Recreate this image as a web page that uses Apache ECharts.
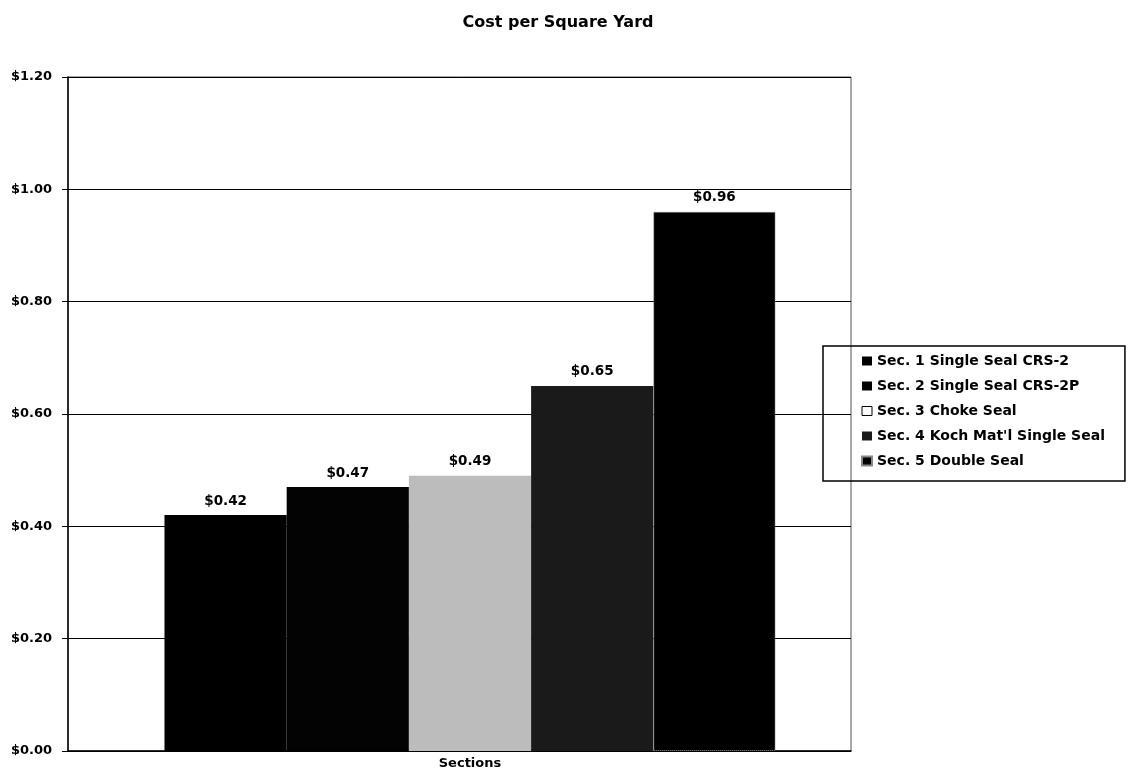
<!DOCTYPE html>
<html>
<head>
<meta charset="utf-8">
<script src="https://cdn.jsdelivr.net/npm/echarts@6/dist/echarts.min.js"></script>
<style>html,body{margin:0;padding:0;background:#fff}#c{width:1129px;height:776px}</style>
</head>
<body>
<div id="c"></div>
<script>
const categories = ['Sections'];
const seriesNames = ['Sec. 1 Single Seal CRS-2', 'Sec. 2 Single Seal CRS-2P', 'Sec. 3 Choke Seal', "Sec. 4 Koch Mat'l Single Seal", 'Sec. 5 Double Seal'];
const values = [0.42, 0.47, 0.49, 0.65, 0.96];
const colors = ['#000000', '#030303', '#bcbcbc', '#1a1a1a', '#000000'];

const font = '"DejaVu Sans", sans-serif';
const chart = echarts.init(document.getElementById('c'));
const series = seriesNames.map((n, i) => ({
  name: n,
  type: 'bar',
  xAxisIndex: 1,
  yAxisIndex: 1,
  data: [values[i]],
  barGap: '0%',
  barCategoryGap: '19.6%',
  itemStyle: Object.assign({ color: colors[i] }, i === 4 ? { borderColor: '#888', borderWidth: 1, borderType: 'dotted' } : {}),
  label: { show: true, position: 'top', distance: 7, formatter: p => '$' + p.value.toFixed(2), color: '#000', fontFamily: font, fontWeight: 'bold', fontSize: 13.5 }
}));
chart.setOption({
  animation: false,
  backgroundColor: '#fff',
  title: { text: 'Cost per Square Yard', left: 553, top: 10, textAlign: 'center', textStyle: { fontFamily: font, fontWeight: 'bold', fontSize: 16, color: '#000' } },
  grid: [
    { left: 68, right: 278, top: 77, bottom: 25, show: true, borderColor: '#555', borderWidth: 1, containLabel: false },
    { left: 90, right: 279, top: 77, bottom: 25, show: false, containLabel: false }
  ],
  legend: {
    orient: 'vertical', left: 823, top: 346,
    data: seriesNames.map((n, i) => i === 2 ? { name: n, itemStyle: { color: '#fff', borderColor: '#000', borderWidth: 1 } } : { name: n }),
    itemWidth: 10, itemHeight: 9, itemGap: 11, icon: 'rect',
    padding: [8, 20, 13, 38],
    borderColor: '#000', borderWidth: 1.5,
    textStyle: { fontFamily: font, fontWeight: 'bold', fontSize: 14, color: '#000' }
  },
  xAxis: [
    {
      gridIndex: 0, type: 'category', data: categories,
      axisLine: { lineStyle: { color: '#000', width: 1.5 } },
      axisTick: { show: false },
      axisLabel: { show: false }
    },
    {
      gridIndex: 1, type: 'category', data: categories,
      axisLine: { show: false },
      axisTick: { show: false },
      axisLabel: { fontFamily: font, fontWeight: 'bold', fontSize: 13, color: '#000', margin: 6 }
    }
  ],
  yAxis: [
    {
      gridIndex: 0, type: 'value', min: 0, max: 1.2, interval: 0.2,
      axisLine: { show: true, lineStyle: { color: '#000', width: 1.5 } },
      axisTick: { show: true, length: 6, lineStyle: { color: '#000' } },
      splitLine: { lineStyle: { color: '#000', width: 1.2 } },
      axisLabel: { fontFamily: font, fontWeight: 'bold', fontSize: 13, color: '#000', margin: 16, formatter: v => '$' + v.toFixed(2) }
    },
    {
      gridIndex: 1, type: 'value', min: 0, max: 1.2, interval: 0.2,
      show: false, splitLine: { show: false }
    }
  ],
  series: series
});
</script>
</body>
</html>
